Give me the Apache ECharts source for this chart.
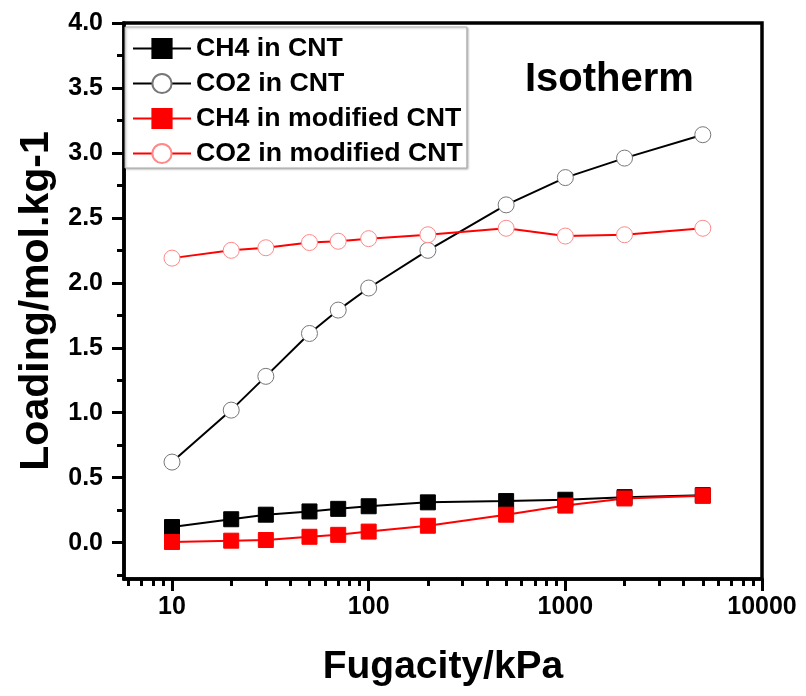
<!DOCTYPE html>
<html>
<head>
<meta charset="utf-8">
<style>
  html, body { margin: 0; padding: 0; background: #fff; }
  #chart { width: 806px; height: 696px; }
</style>
<script src="https://cdn.jsdelivr.net/npm/echarts@6/dist/echarts.min.js"></script>
</head>
<body>
<div id="chart"></div>
<script>
var font = 'Liberation Sans, Arial, sans-serif';

// fugacity (kPa), shared by all four series
var fugacity = [10, 20, 30, 50, 70, 100, 200, 500, 1000, 2000, 5000];

// loading (mol/kg)
var ch4Cnt = [0.12, 0.18, 0.215, 0.24, 0.26, 0.28, 0.31, 0.32, 0.33, 0.35, 0.365];
var co2Cnt = [0.62, 1.02, 1.28, 1.61, 1.79, 1.96, 2.25, 2.60, 2.81, 2.96, 3.14];
var ch4Mod = [0.005, 0.015, 0.02, 0.045, 0.06, 0.085, 0.13, 0.215, 0.285, 0.34, 0.36];
var co2Mod = [2.19, 2.25, 2.27, 2.31, 2.32, 2.34, 2.37, 2.42, 2.36, 2.37, 2.42];

var seriesNames = ['CH4 in CNT', 'CO2 in CNT', 'CH4 in modified CNT', 'CO2 in modified CNT'];

// axis ticks
var xMajor = [10, 100, 1000, 10000];
var xMinor = [6, 7, 8, 9, 20, 30, 40, 50, 60, 70, 80, 90, 200, 300, 400, 500, 600, 700, 800, 900,
              2000, 3000, 4000, 5000, 6000, 7000, 8000, 9000];
var yMajor = [0, 0.5, 1, 1.5, 2, 2.5, 3, 3.5, 4];
var yMinor = [-0.25, 0.25, 0.75, 1.25, 1.75, 2.25, 2.75, 3.25, 3.75];

function pairs(ys) {
  return fugacity.map(function(x, i) { return [x, ys[i]]; });
}

var chart = echarts.init(document.getElementById('chart'), null, { renderer: 'canvas' });

function lineSeries(name, ys, color, symbol, fill, border, size) {
  return {
    name: name,
    type: 'line',
    data: pairs(ys),
    symbol: symbol,
    symbolSize: size,
    lineStyle: { color: color, width: 2 },
    itemStyle: { color: fill, borderColor: border, borderWidth: 1, opacity: 1 },
    emphasis: { disabled: true },
    z: 3
  };
}

var option = {
  animation: false,
  backgroundColor: '#fff',
  textStyle: { fontFamily: font },
  grid: {
    left: 124, right: 44, top: 23, bottom: 117,
    show: true, borderColor: '#000', borderWidth: 3.5, backgroundColor: 'transparent'
  },
  legend: {
    orient: 'vertical',
    left: 125,
    top: 27,
    padding: [8, 4, 1, 7],
    itemGap: 8,
    itemWidth: 58,
    itemHeight: 24,
    backgroundColor: '#fff',
    borderColor: '#aaa',
    borderWidth: 1,
    shadowColor: 'rgba(0,0,0,0.25)',
    shadowBlur: 2,
    shadowOffsetX: 1,
    shadowOffsetY: 1,
    textStyle: { fontSize: 26.7, fontWeight: 'bold', color: '#000', fontFamily: font },
    data: seriesNames
  },
  xAxis: [
    {
      type: 'log',
      min: 5.7,
      max: 10000,
      position: 'bottom',
      name: 'Fugacity/kPa',
      nameLocation: 'middle',
      nameGap: 69,
      nameTextStyle: { fontSize: 39, fontWeight: 'bold', color: '#000', fontFamily: font },
      axisLine: { show: true, onZero: false, lineStyle: { color: '#000', width: 3.5 } },
      axisTick: { show: true, inside: false, length: 12, customValues: xMajor, lineStyle: { color: '#000', width: 3 } },
      axisLabel: {
        customValues: xMajor, fontSize: 25, fontWeight: 'bold', color: '#000', margin: 16, fontFamily: font,
        formatter: function(v) { return String(Math.round(v)); }
      },
      splitLine: { show: false },
      minorTick: { show: false }
    },
    {
      type: 'log',
      min: 5.7,
      max: 10000,
      position: 'bottom',
      axisLine: { show: false, onZero: false },
      axisTick: { show: true, inside: false, length: 7, customValues: xMinor, lineStyle: { color: '#000', width: 3 } },
      axisLabel: { show: false },
      splitLine: { show: false }
    }
  ],
  yAxis: [
    {
      type: 'value',
      min: -0.28,
      max: 4,
      position: 'left',
      name: 'Loading/mol.kg-1',
      nameLocation: 'middle',
      nameRotate: 90,
      nameGap: 66,
      nameTextStyle: { fontSize: 41, fontWeight: 'bold', color: '#000', fontFamily: font },
      axisLine: { show: true, onZero: false, lineStyle: { color: '#000', width: 3.5 } },
      axisTick: { show: true, inside: false, length: 12, customValues: yMajor, lineStyle: { color: '#000', width: 3 } },
      axisLabel: {
        customValues: yMajor, fontSize: 25, fontWeight: 'bold', color: '#000', margin: 21, fontFamily: font,
        formatter: function(v) { return Number(v).toFixed(1); }
      },
      splitLine: { show: false }
    },
    {
      type: 'value',
      min: -0.28,
      max: 4,
      position: 'left',
      axisLine: { show: false, onZero: false },
      axisTick: { show: true, inside: false, length: 7, customValues: yMinor, lineStyle: { color: '#000', width: 3 } },
      axisLabel: { show: false },
      splitLine: { show: false }
    }
  ],
  graphic: [{
    type: 'text',
    left: 525,
    top: 60,
    style: { text: 'Isotherm', font: 'bold 40px ' + font, fill: '#000' }
  }],
  series: [
    lineSeries(seriesNames[0], ch4Cnt, '#000', 'rect', '#000', '#000', 15),
    lineSeries(seriesNames[1], co2Cnt, '#000', 'circle', '#fff', '#777', 16),
    lineSeries(seriesNames[2], ch4Mod, '#f00', 'rect', '#f00', '#f00', 15),
    lineSeries(seriesNames[3], co2Mod, '#f00', 'circle', '#fff', '#f88', 16)
  ]
};

chart.setOption(option);
</script>
</body>
</html>
